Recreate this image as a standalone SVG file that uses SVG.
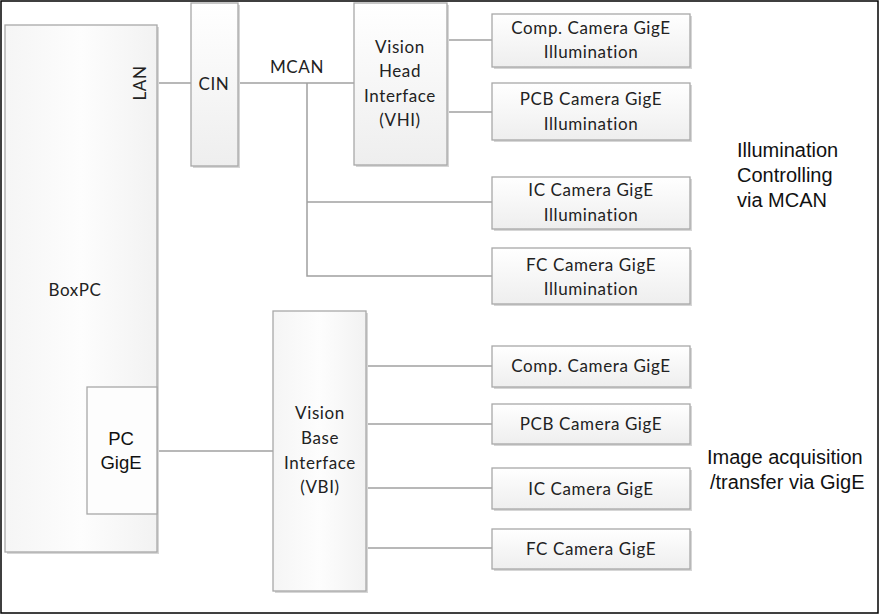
<svg xmlns="http://www.w3.org/2000/svg" width="880" height="615" viewBox="0 0 880 615">
<defs>
<linearGradient id="g" x1="0" y1="0" x2="0" y2="1">
<stop offset="0" stop-color="#ffffff"/>
<stop offset="1" stop-color="#eeeeee"/>
</linearGradient>
<linearGradient id="gh" x1="0" y1="0" x2="1" y2="0">
<stop offset="0" stop-color="#f5f5f5"/>
<stop offset="0.5" stop-color="#fdfdfd"/>
<stop offset="1" stop-color="#f2f2f2"/>
</linearGradient>
</defs>
<style>
.box{fill:url(#g);stroke:#a8a8a8;stroke-width:1.3}
.vbox{fill:url(#gh);stroke:#a8a8a8;stroke-width:1.3}
.sh{fill:#d6d6d6}
.c{font-family:Lato,"Open Sans",sans-serif;font-size:17px;fill:#222;text-anchor:middle;letter-spacing:0.6px}
.a{font-family:"Liberation Sans",Arial,sans-serif;font-size:20px;fill:#111}
.b{font-family:"Liberation Sans",Arial,sans-serif;font-size:18.5px;fill:#111;text-anchor:middle}
.ln{stroke:#a0a0a0;stroke-width:1.5;fill:none}
</style>
<rect x="1" y="1" width="877" height="612" fill="#fff" stroke="#000" stroke-width="1.5"/>

<g id="connectors">
<line class="ln" x1="157" y1="83" x2="191" y2="83"/>
<line class="ln" x1="238" y1="83" x2="354" y2="83"/>
<polyline class="ln" points="307,83 307,276 492,276"/>
<line class="ln" x1="307" y1="202" x2="492" y2="202"/>
<line class="ln" x1="447" y1="40" x2="492" y2="40"/>
<line class="ln" x1="447" y1="112" x2="492" y2="112"/>
<line class="ln" x1="157" y1="451" x2="273" y2="451"/>
<line class="ln" x1="366" y1="366" x2="492" y2="366"/>
<line class="ln" x1="366" y1="424" x2="492" y2="424"/>
<line class="ln" x1="366" y1="488" x2="492" y2="488"/>
<line class="ln" x1="366" y1="548" x2="492" y2="548"/>
</g>

<g id="boxpc">
<rect class="sh" x="7" y="27" width="152" height="527"/>
<rect class="vbox" x="5" y="25" width="152" height="527"/>
<text class="c" x="75" y="296">BoxPC</text>
<text class="c" transform="translate(146,83) rotate(-90)">LAN</text>
</g>

<g id="pcgige">
<rect x="87" y="387" width="70" height="127" fill="#fdfdfd" stroke="#a8a8a8" stroke-width="1.3"/>
<text class="b" x="121" y="445">PC</text>
<text class="b" x="121" y="469">GigE</text>
</g>

<g id="cin">
<rect class="sh" x="193" y="5" width="47" height="163"/>
<rect class="box" x="191" y="3" width="47" height="163"/>
<text class="c" x="214" y="90">CIN</text>
</g>

<text id="mcan" class="c" x="297" y="73">MCAN</text>

<g id="vhi">
<rect class="sh" x="356" y="5" width="93" height="162"/>
<rect class="box" x="354" y="3" width="93" height="162"/>
<text class="c" x="400" y="53">Vision</text>
<text class="c" x="400" y="77">Head</text>
<text class="c" x="400" y="102">Interface</text>
<text class="c" x="400" y="126">(VHI)</text>
</g>

<g id="vbi">
<rect class="sh" x="275" y="313" width="93" height="280"/>
<rect class="vbox" x="273" y="311" width="93" height="280"/>
<text class="c" x="320" y="419">Vision</text>
<text class="c" x="320" y="444">Base</text>
<text class="c" x="320" y="469">Interface</text>
<text class="c" x="320" y="493">(VBI)</text>
</g>

<g id="comp-ill">
<rect class="sh" x="494" y="16" width="198" height="53"/>
<rect class="box" x="492" y="14" width="198" height="53"/>
<text class="c" x="591" y="34">Comp. Camera GigE</text>
<text class="c" x="591" y="58">Illumination</text>
</g>
<g id="pcb-ill">
<rect class="sh" x="494" y="85" width="198" height="57"/>
<rect class="box" x="492" y="83" width="198" height="57"/>
<text class="c" x="591" y="105">PCB Camera GigE</text>
<text class="c" x="591" y="130">Illumination</text>
</g>
<g id="ic-ill">
<rect class="sh" x="494" y="179" width="198" height="52"/>
<rect class="box" x="492" y="177" width="198" height="52"/>
<text class="c" x="591" y="196">IC Camera GigE</text>
<text class="c" x="591" y="221">Illumination</text>
</g>
<g id="fc-ill">
<rect class="sh" x="494" y="250" width="198" height="56"/>
<rect class="box" x="492" y="248" width="198" height="56"/>
<text class="c" x="591" y="271">FC Camera GigE</text>
<text class="c" x="591" y="295">Illumination</text>
</g>

<g id="comp-cam">
<rect class="sh" x="494" y="348" width="198" height="41"/>
<rect class="box" x="492" y="346" width="198" height="41"/>
<text class="c" x="591" y="372">Comp. Camera GigE</text>
</g>
<g id="pcb-cam">
<rect class="sh" x="494" y="406" width="198" height="40"/>
<rect class="box" x="492" y="404" width="198" height="40"/>
<text class="c" x="591" y="430">PCB Camera GigE</text>
</g>
<g id="ic-cam">
<rect class="sh" x="494" y="470" width="198" height="41"/>
<rect class="box" x="492" y="468" width="198" height="41"/>
<text class="c" x="591" y="495">IC Camera GigE</text>
</g>
<g id="fc-cam">
<rect class="sh" x="494" y="531" width="198" height="40"/>
<rect class="box" x="492" y="529" width="198" height="40"/>
<text class="c" x="591" y="555">FC Camera GigE</text>
</g>

<g id="label-ill">
<text class="a" x="737" y="157">Illumination</text>
<text class="a" x="737" y="182">Controlling</text>
<text class="a" x="737" y="207">via MCAN</text>
</g>
<g id="label-img">
<text class="a" x="707" y="464">Image acquisition</text>
<text class="a" x="710" y="489">/transfer via GigE</text>
</g>
</svg>
